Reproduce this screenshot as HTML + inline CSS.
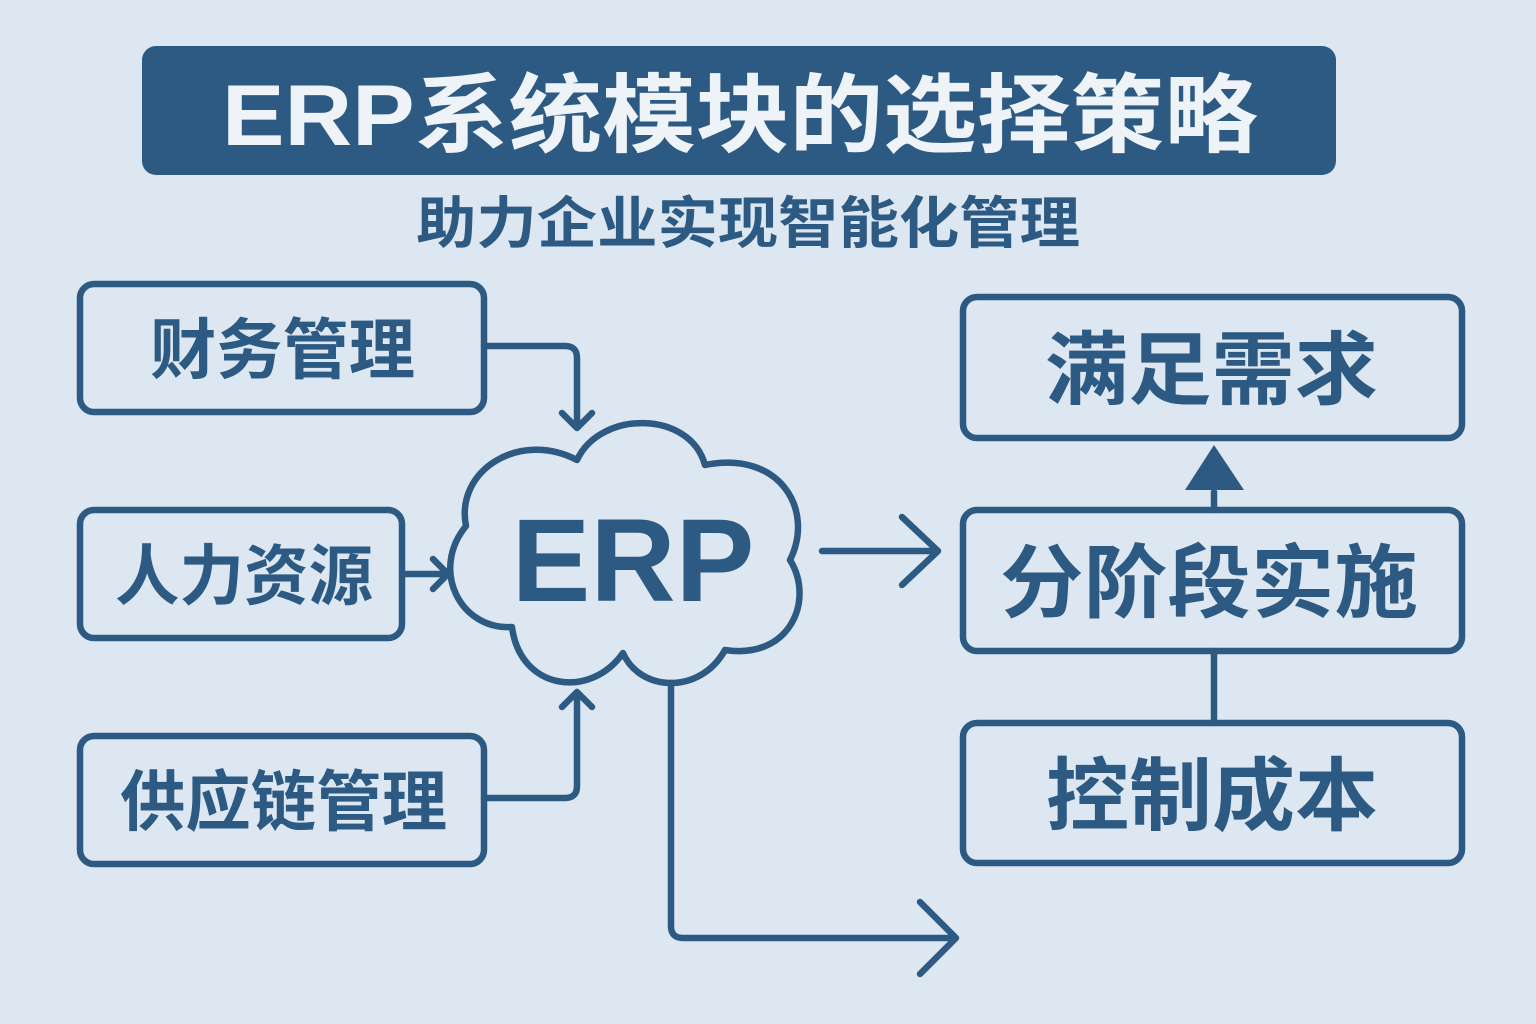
<!DOCTYPE html>
<html><head><meta charset="utf-8"><style>
body{margin:0;background:#dde7f1;}
svg{display:block}
.t{font-family:"Liberation Sans","Noto Sans CJK SC",sans-serif;font-weight:bold;fill:#2d5a82;}
</style></head><body>
<svg width="1536" height="1024" viewBox="0 0 1536 1024">
<rect width="1536" height="1024" fill="#dde7f1"/>
<rect x="142" y="46" width="1194" height="129" rx="14" fill="#2d5a82"/>
<text x="222" y="145" class="t" style="fill:#eef3f8" font-size="86" textLength="1036" lengthAdjust="spacingAndGlyphs">ERP系统模块的选择策略</text>
<text x="416" y="243" class="t" font-size="56" textLength="664" lengthAdjust="spacingAndGlyphs">助力企业实现智能化管理</text>
<g fill="none" stroke="#2d5a82" stroke-width="6.5" stroke-linecap="round" stroke-linejoin="round">
<rect x="80" y="284" width="404" height="128" rx="14"/>
<rect x="80" y="510" width="322" height="128" rx="14"/>
<rect x="80" y="736" width="404" height="128" rx="14"/>
<rect x="963" y="297" width="499" height="141" rx="14"/>
<rect x="963" y="510" width="499" height="141" rx="14"/>
<rect x="963" y="723" width="499" height="140" rx="14"/>
<path d="M466,526 C455,470 520,430 577,460 C600,410 690,410 705,465 C780,450 815,510 790,560 C815,600 790,660 725,650 C700,695 640,692 623,653 C590,700 520,690 512,627 C460,630 430,570 466,526 Z"/>
<path d="M484,346 H565 Q577,346 577,358 V428 M562,413 L577,428 L592,413"/>
<path d="M402,574 H448 M433,559 L448,574 L433,589"/>
<path d="M484,798 H565 Q577,798 577,786 V692 M562,707 L577,692 L592,707"/>
<path d="M822,551 H936 M902,517 L938,551 L902,585"/>
<path d="M671,683 V926 Q671,938 683,938 H955 M920,902 L956,938 L920,974"/>
<path d="M1214,510 V492 M1214,651 V723"/>
</g>
<polygon points="1185,490 1244,490 1214,445" fill="#2d5a82"/>
<text x="150" y="373" class="t" font-size="66" textLength="265" lengthAdjust="spacingAndGlyphs">财务管理</text>
<text x="115" y="599" class="t" font-size="66" textLength="258" lengthAdjust="spacingAndGlyphs">人力资源</text>
<text x="120" y="825" class="t" font-size="66" textLength="327" lengthAdjust="spacingAndGlyphs">供应链管理</text>
<text x="633" y="601" text-anchor="middle" class="t" font-size="118">ERP</text>
<text x="1045" y="398" class="t" font-size="80" textLength="333" lengthAdjust="spacingAndGlyphs">满足需求</text>
<text x="1000" y="611" class="t" font-size="80" textLength="418" lengthAdjust="spacingAndGlyphs">分阶段实施</text>
<text x="1046" y="824" class="t" font-size="80" textLength="332" lengthAdjust="spacingAndGlyphs">控制成本</text>
</svg>
</body></html>
